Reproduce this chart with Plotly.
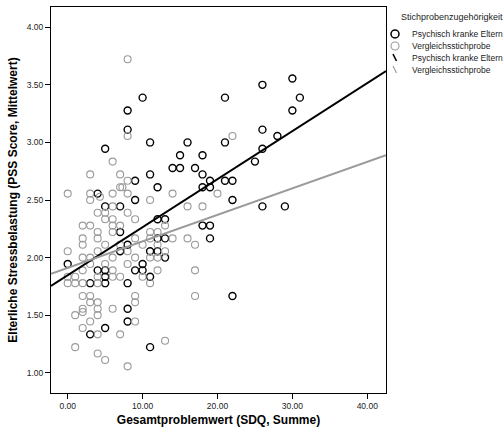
import plotly.graph_objects as go

# ---- data (SDQ total, PSS mean = k/18) ----
psych_sdq = [10, 21, 8, 8, 11, 16, 21, 5, 15, 18, 14, 15, 17, 11, 18, 9, 19, 21, 22, 12, 18, 19, 4, 9, 22,
             30, 26, 31, 30, 26, 28, 26, 25, 26, 29, 18, 19, 19, 22, 5, 7, 12, 13, 7, 12, 13, 8, 7, 11, 12,
             13, 0, 10, 4, 5, 9, 10, 5, 11, 3, 5, 8, 8, 8, 5, 3, 11]
psych_k = [61, 61, 59, 56, 54, 54, 54, 53, 52, 52, 50, 50, 50, 49, 49, 48, 48, 48, 48, 47, 47, 47, 46, 45, 45,
           64, 63, 61, 59, 56, 55, 53, 51, 44, 44, 41, 41, 39, 30, 44, 44, 42, 42, 40, 39, 39, 38, 37, 37, 37,
           36, 35, 35, 34, 34, 34, 34, 33, 33, 32, 32, 32, 28, 26, 25, 24, 22]

comp_sdq = [8, 8, 22, 6, 3, 7, 8, 7, 7.3, 0, 3, 6, 8, 14, 20, 3, 11, 4.3,
            6, 16, 18,
            4, 5, 8,
            5, 6, 9,
            2, 3, 6, 7, 13,
            4, 6, 11, 12,
            2, 4, 9, 11, 14, 16,
            2, 5, 7, 10, 12, 17,
            0, 4, 8, 13,
            2, 3, 6, 9, 11, 12,
            3, 5, 8,
            2, 6, 12, 17,
            0, 1, 4, 6, 7, 10,
            0, 1, 2, 4, 11,
            2, 3, 9, 17,
            3, 4, 9,
            2, 4, 6,
            2,
            1, 4,
            3, 9,
            2,
            4, 7,
            13, 1, 4, 5, 8]
comp_k = [67, 55, 55, 51, 49, 49, 48, 47, 47, 46, 46, 46, 46, 46, 46, 45, 45, 45.5,
          44, 44, 44,
          43, 43, 43,
          42, 42, 42,
          41, 41, 41, 41, 41,
          40, 40, 40, 40,
          39, 39, 39, 39, 39, 39,
          38, 38, 38, 38, 38, 38,
          37, 37, 37, 37,
          36, 36, 36, 36, 36, 36,
          35, 35, 35,
          34, 34, 34, 34,
          33, 33, 33, 33, 33, 33,
          32, 32, 32, 32, 32,
          30, 30, 30, 30,
          29, 29, 29,
          28, 28, 28,
          27.5,
          27, 27,
          26, 26,
          25,
          24, 24,
          23, 22, 21, 20, 19]

psych_pss = [k / 18 for k in psych_k]
comp_pss = [k / 18 for k in comp_k]

# fit lines (intercept, slope)
psych_fit = (1.847, 0.0417)
comp_fit = (1.911, 0.0230)

x_range = [-2.23, 42.5]
y_range = [0.824, 4.176]
x_ticks = [0, 10, 20, 30, 40]
y_ticks = [1.0, 1.5, 2.0, 2.5, 3.0, 3.5, 4.0]

legend_title = "Stichprobenzugehörigkeit"
label_psych = "Psychisch kranke Eltern"
label_comp = "Vergleichsstichprobe"

BLACK = "#000000"
GRAY = "#9a9a9a"

W, H = 504, 432
ML, MR, MT, MB = 51, 118, 7, 39
PW, PH = W - ML - MR, H - MT - MB


def px(xp):
    return (xp - ML) / PW


def py(yp):
    return (H - MB - yp) / PH


fig = go.Figure()

fig.add_trace(go.Scatter(x=psych_sdq, y=psych_pss, mode="markers", name=label_psych,
                         marker=dict(symbol="circle-open", size=7, color=BLACK, line=dict(width=1.4, color=BLACK))))
fig.add_trace(go.Scatter(x=comp_sdq, y=comp_pss, mode="markers", name=label_comp,
                         marker=dict(symbol="circle-open", size=7, color=GRAY, line=dict(width=1.1, color=GRAY))))

for (b0, b1), col in [(psych_fit, BLACK), (comp_fit, GRAY)]:
    fig.add_trace(go.Scatter(x=x_range, y=[b0 + b1 * x for x in x_range], mode="lines",
                             line=dict(color=col, width=2), hoverinfo="skip"))

# ---- custom legend (compact, SPSS style) ----
annotations = [dict(text=legend_title, xref="paper", yref="paper", x=px(399), y=py(17),
                    xanchor="left", yanchor="middle", showarrow=False, font=dict(size=9, color="#222"))]
shapes = []
rows = [(label_psych, BLACK, "circle", 34), (label_comp, GRAY, "circle", 46),
        (label_psych, BLACK, "line", 58), (label_comp, GRAY, "line", 70)]
for text, col, kind, yy in rows:
    annotations.append(dict(text=text, xref="paper", yref="paper", x=px(410), y=py(yy),
                            xanchor="left", yanchor="middle", showarrow=False,
                            font=dict(size=8.5, color="#222")))
    if kind == "circle":
        shapes.append(dict(type="circle", xref="paper", yref="paper",
                           x0=px(391), x1=px(399), y0=py(yy + 4), y1=py(yy - 4),
                           line=dict(color=col, width=1.5 if col == BLACK else 1.1)))
    else:
        shapes.append(dict(type="line", xref="paper", yref="paper",
                           x0=px(393), x1=px(396.5), y0=py(yy - 4), y1=py(yy + 3),
                           line=dict(color=col, width=1.6 if col == BLACK else 1.1)))

fig.update_layout(
    width=W, height=H,
    margin=dict(l=ML, r=MR, t=MT, b=MB, autoexpand=False),
    paper_bgcolor="white", plot_bgcolor="white",
    font=dict(family="Liberation Sans, Arial, sans-serif", size=9, color="black"),
    showlegend=False,
    annotations=annotations,
    shapes=shapes,
)

fig.update_xaxes(range=x_range, tickvals=x_ticks, ticktext=[f"{v:.2f}" for v in x_ticks],
                 showgrid=False, zeroline=False, showline=True, linecolor="black", linewidth=1, mirror=True,
                 ticks="outside", ticklen=5, tickcolor="black", tickfont=dict(size=8.5, color="#222"),
                 automargin=False,
                 title=dict(text="<b>Gesamtproblemwert (SDQ, Summe)</b>", font=dict(size=12), standoff=5))
fig.update_yaxes(range=y_range, tickvals=y_ticks, ticktext=[f"{v:.2f}" for v in y_ticks],
                 showgrid=False, zeroline=False, showline=True, linecolor="black", linewidth=1, mirror=True,
                 ticks="outside", ticklen=5, tickcolor="black", tickfont=dict(size=8.5, color="#222"),
                 automargin=False,
                 title=dict(text="<b>Elterliche Stressbelastung (PSS Score, Mittelwert)</b>", font=dict(size=12), standoff=6))

fig.write_html("out.html",
               config={"displayModeBar": False},
               post_script="document.body.style.margin='0';document.body.style.padding='0';"
                           "document.body.style.overflow='hidden';")
